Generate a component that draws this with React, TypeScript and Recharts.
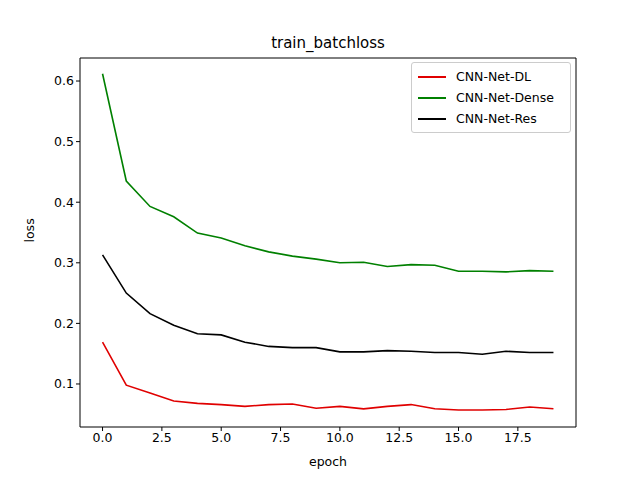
import { LineChart, Line, XAxis, YAxis } from "recharts"

const epochs = [0, 1, 2, 3, 4, 5, 6, 7, 8, 9, 10, 11, 12, 13, 14, 15, 16, 17, 18, 19]
const dl = [0.169, 0.098, 0.085, 0.072, 0.068, 0.066, 0.063, 0.066, 0.067, 0.060, 0.063, 0.059, 0.063, 0.066, 0.059, 0.057, 0.057, 0.058, 0.062, 0.059]
const dense = [0.612, 0.435, 0.393, 0.376, 0.349, 0.341, 0.328, 0.318, 0.311, 0.306, 0.300, 0.301, 0.294, 0.297, 0.296, 0.286, 0.286, 0.285, 0.287, 0.286]
const res = [0.313, 0.250, 0.216, 0.197, 0.183, 0.181, 0.169, 0.162, 0.160, 0.160, 0.153, 0.153, 0.155, 0.154, 0.152, 0.152, 0.149, 0.154, 0.152, 0.152]
const xTicks = [0, 2.5, 5, 7.5, 10, 12.5, 15, 17.5]
const yTicks = [0.1, 0.2, 0.3, 0.4, 0.5, 0.6]
const series = [
  { key: "dl", name: "CNN-Net-DL", color: "#e00000" },
  { key: "dense", name: "CNN-Net-Dense", color: "#008000" },
  { key: "res", name: "CNN-Net-Res", color: "#000000" },
]

const data = epochs.map((e, i) => ({ epoch: e, dl: dl[i], dense: dense[i], res: res[i] }))

const font = "DejaVu Sans"
const tick = { fill: "#000", fontSize: 12.5, fontFamily: font }

export default function App() {
  return (
    <div style={{ position: "absolute", left: 0, top: 0, width: 640, height: 480, background: "#fff" }}>
      <LineChart width={640} height={480} data={data} margin={{ top: 0, right: 0, bottom: 0, left: 0 }}>
        <XAxis xAxisId="top" orientation="top" height={58} dataKey="epoch" type="number" domain={[-0.95, 19.95]} tick={false} tickLine={false} axisLine={{ stroke: "#000" }} />
        <XAxis dataKey="epoch" type="number" domain={[-0.95, 19.95]} ticks={xTicks} tickFormatter={(v) => v.toFixed(1)} tick={tick} tickSize={4} tickLine={{ stroke: "#000" }} axisLine={{ stroke: "#000" }} height={53} label={{ value: "epoch", position: "insideBottom", offset: 14, fill: "#000", fontSize: 12.5, fontFamily: font }} />
        <YAxis type="number" domain={[0.029, 0.638]} ticks={yTicks} tickFormatter={(v) => v.toFixed(1)} tick={tick} tickSize={4} tickLine={{ stroke: "#000" }} axisLine={{ stroke: "#000" }} width={80} label={{ value: "loss", angle: -90, position: "insideLeft", offset: 30, fill: "#000", fontSize: 12.5, fontFamily: font }} />
        <YAxis yAxisId="r" orientation="right" width={64} tick={false} tickLine={false} axisLine={{ stroke: "#000" }} />
        {series.map((s) => (
          <Line key={s.key} dataKey={s.key} name={s.name} stroke={s.color} strokeWidth={1.6} dot={false} isAnimationActive={false} />
        ))}
      </LineChart>
      <div style={{ position: "absolute", left: 0, top: 34, width: 656, textAlign: "center", fontFamily: font, fontSize: 15 }}>train_batchloss</div>
      <div style={{ position: "absolute", left: 411, top: 62, width: 158, padding: "3px 0", border: "1px solid #ccc", borderRadius: 3, background: "#fff", fontFamily: font, fontSize: 12.5 }}>
        {series.map((s) => (
          <div key={s.key} style={{ display: "flex", alignItems: "center", height: 21 }}>
            <div style={{ width: 28, height: 2, background: s.color, marginLeft: 6, marginRight: 10 }} />
            {s.name}
          </div>
        ))}
      </div>
    </div>
  )
}
